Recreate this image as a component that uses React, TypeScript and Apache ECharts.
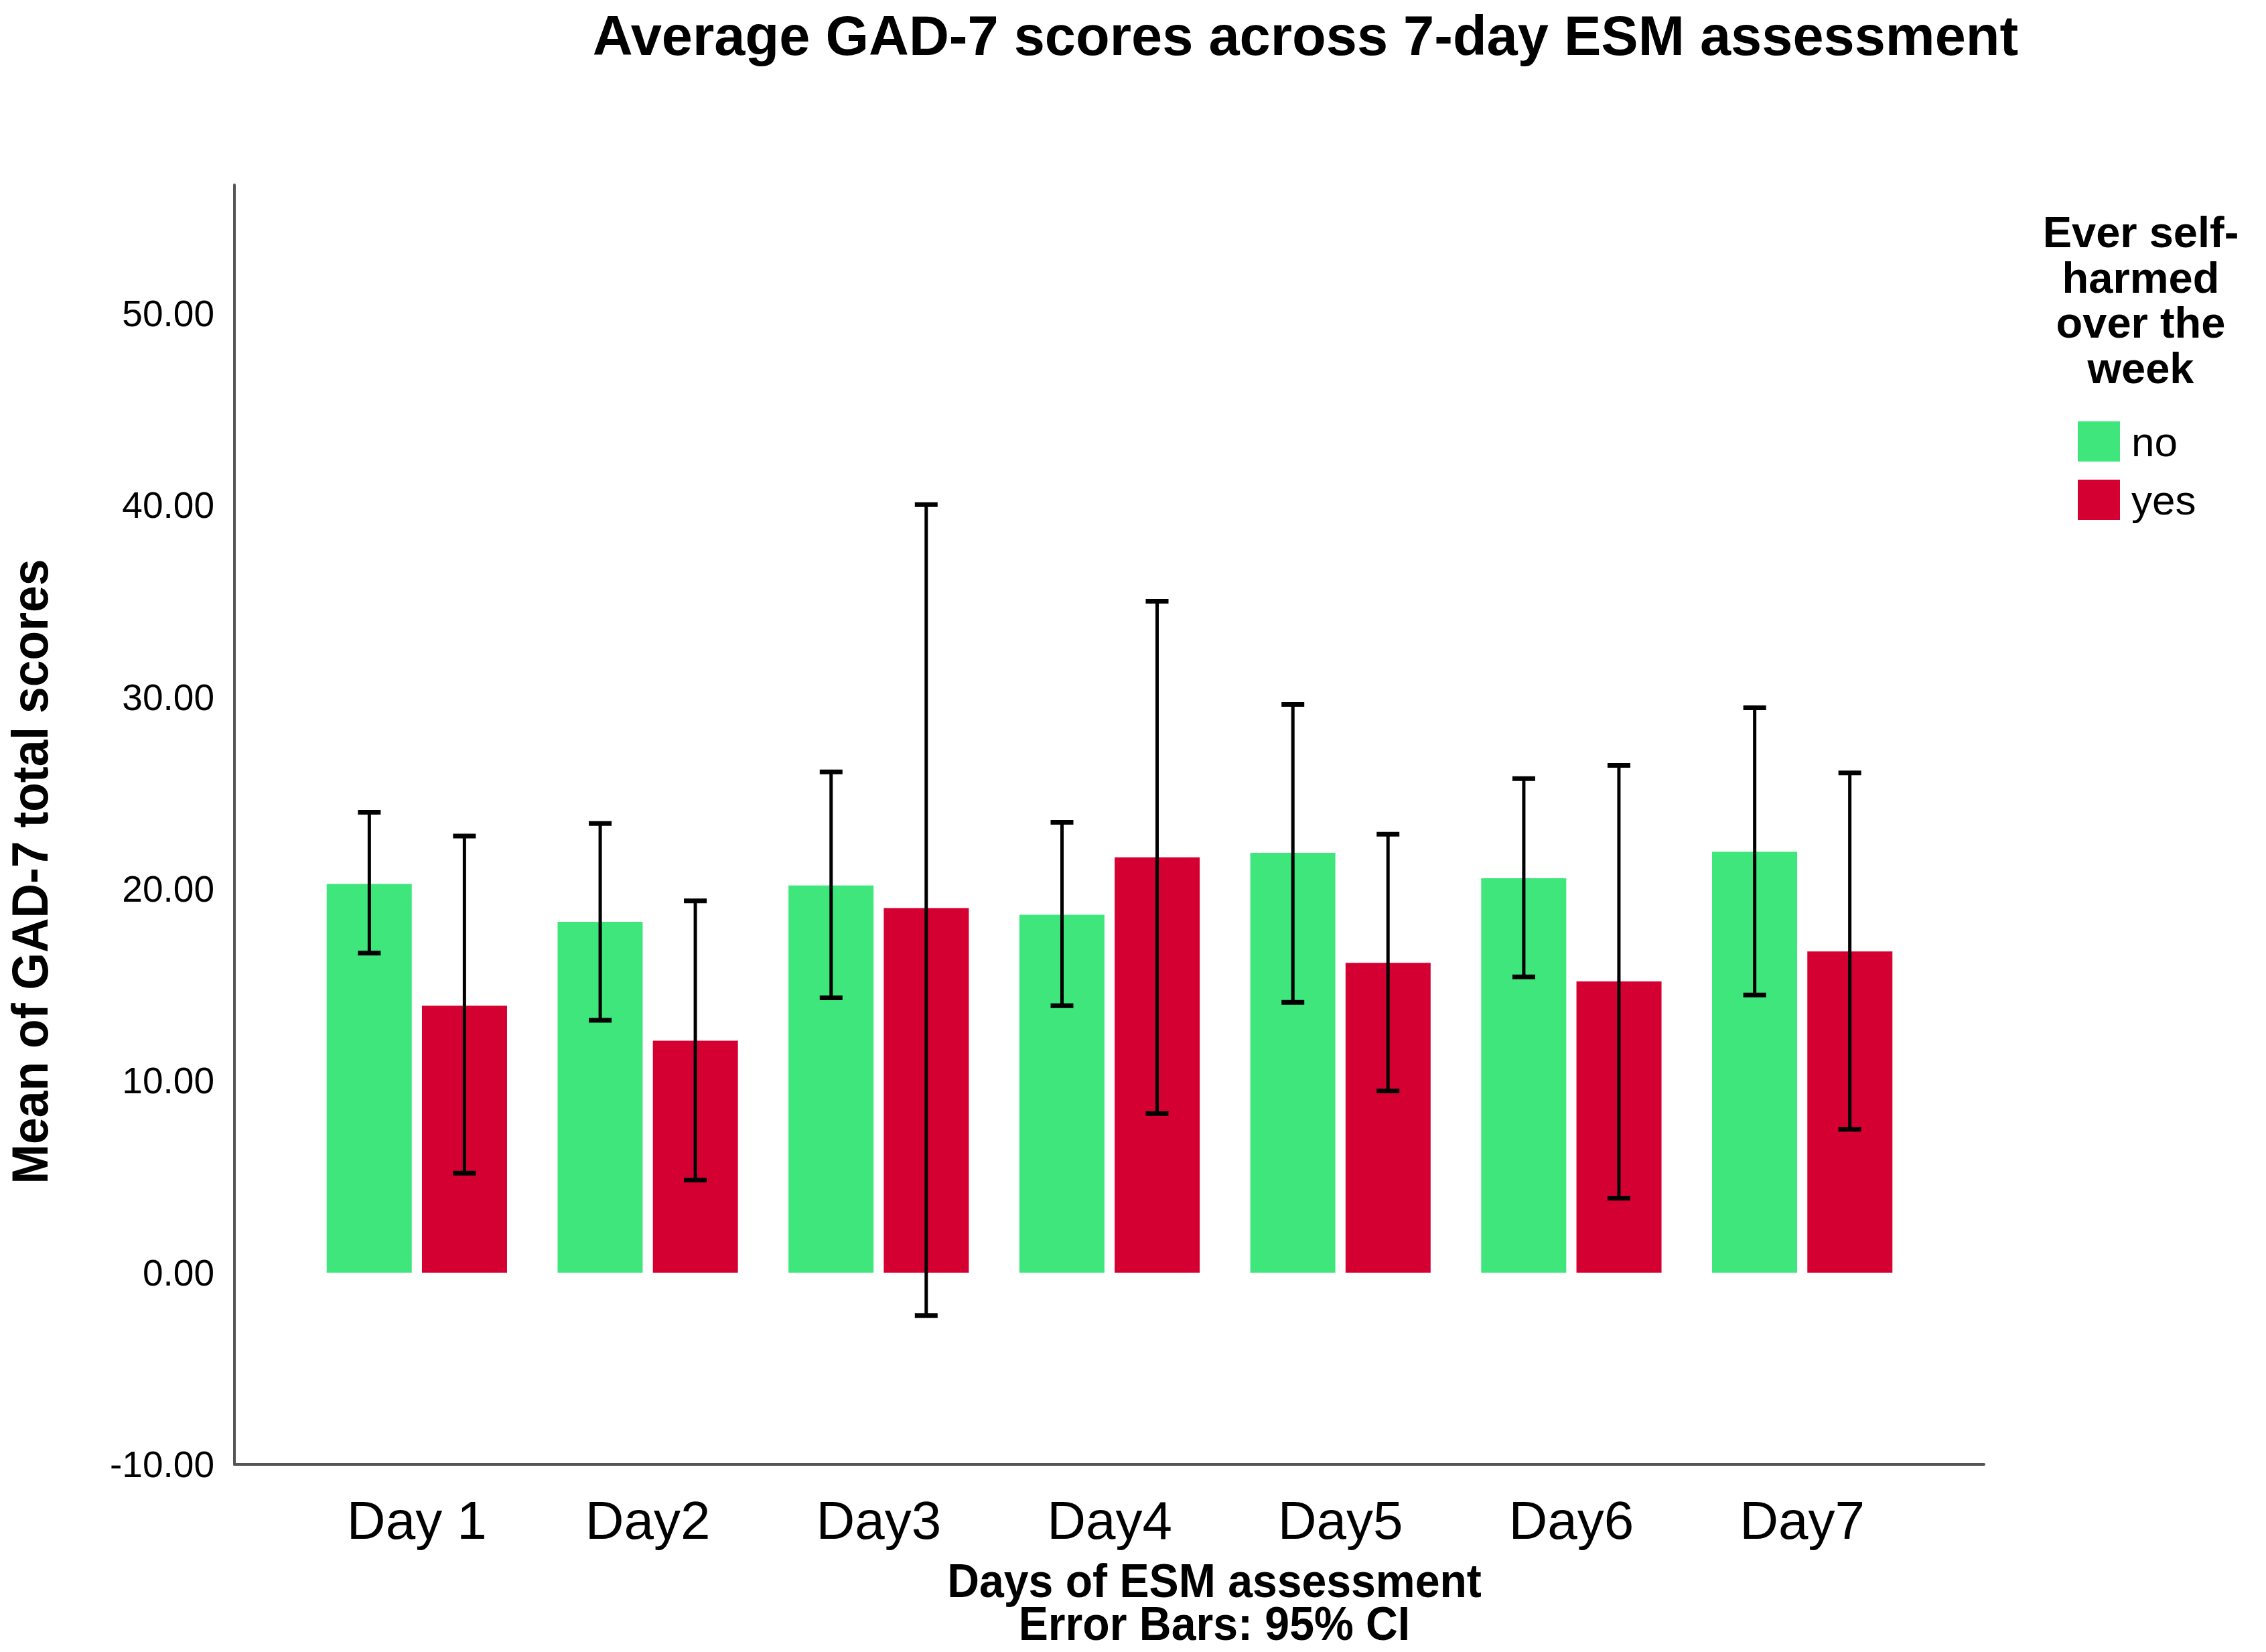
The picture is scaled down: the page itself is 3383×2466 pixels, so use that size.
import React, { useEffect, useRef } from "react";
import * as echarts from "echarts";

const days = ["Day 1", "Day2", "Day3", "Day4", "Day5", "Day6", "Day7"];
const noMean = [20.26, 18.29, 20.18, 18.65, 21.88, 20.56, 21.94];
const noLow = [16.65, 13.15, 14.32, 13.91, 14.09, 15.41, 14.47];
const noHigh = [24.0, 23.41, 26.1, 23.47, 29.62, 25.75, 29.44];
const yesMean = [13.91, 12.09, 19.0, 21.65, 16.15, 15.18, 16.74];
const yesLow = [5.18, 4.82, -2.24, 8.29, 9.47, 3.88, 7.47];
const yesHigh = [22.76, 19.38, 40.03, 35.0, 22.85, 26.44, 26.05];
const yTicksMin = -10;
const yTicksMax = 56.7;
const yInterval = 10;

const FONT = '"Liberation Sans", Arial, Helvetica, sans-serif';
const GREEN = "#3ee67c";
const RED = "#d50032";
const BAR_W = 127;
const OFFSET = 71;

function errRender(offset: number) {
  return (params: any, api: any) => {
    const xi = api.value(0);
    const pLo = api.coord([xi, api.value(1)]);
    const pHi = api.coord([xi, api.value(2)]);
    const x = pLo[0] + offset;
    const half = 17;
    const st = { stroke: "#000", lineWidth: 5 };
    const cap = { stroke: "#000", lineWidth: 7 };
    return {
      type: "group",
      children: [
        { type: "line", shape: { x1: x, y1: pHi[1], x2: x, y2: pLo[1] }, style: st },
        { type: "line", shape: { x1: x - half, y1: pHi[1], x2: x + half, y2: pHi[1] }, style: cap },
        { type: "line", shape: { x1: x - half, y1: pLo[1], x2: x + half, y2: pLo[1] }, style: cap },
      ],
    };
  };
}

export default function App() {
  const ref = useRef<HTMLDivElement>(null);
  useEffect(() => {
    if (!ref.current) return;
    const chart = echarts.init(ref.current, undefined, { renderer: "svg" });
    const axisLine = { show: true, onZero: false, lineStyle: { color: "#555", width: 4 } };
    chart.setOption({
      animation: false,
      backgroundColor: "#fff",
      grid: [
        { left: 450, width: 2413, top: 276, height: 1910 },
        { left: 350, width: 2612, top: 276, height: 1910 },
      ],
      xAxis: [
        {
          type: "category",
          gridIndex: 0,
          data: days,
          axisLine: { show: false },
          axisTick: { show: false },
          axisLabel: { fontSize: 80, color: "#000", margin: 43, fontFamily: FONT },
        },
        {
          type: "value",
          gridIndex: 1,
          min: 0,
          max: 1,
          axisLine,
          axisTick: { show: false },
          axisLabel: { show: false },
          splitLine: { show: false },
        },
      ],
      yAxis: [
        { type: "value", gridIndex: 0, min: yTicksMin, max: yTicksMax, show: false, splitLine: { show: false } },
        {
          type: "value",
          gridIndex: 1,
          min: yTicksMin,
          max: yTicksMax,
          interval: yInterval,
          axisLine,
          axisTick: { show: false },
          splitLine: { show: false },
          axisLabel: {
            fontSize: 55,
            color: "#000",
            margin: 30,
            fontFamily: FONT,
            formatter: (v: number) => (Math.abs(v % yInterval) < 1e-6 ? v.toFixed(2) : ""),
          },
        },
      ],
      legend: {
        orient: "vertical",
        left: 3102,
        top: 628,
        padding: 0,
        itemWidth: 63,
        itemHeight: 60,
        itemGap: 25,
        icon: "rect",
        data: ["no", "yes"],
        textStyle: { fontSize: 62, color: "#000", fontFamily: FONT, padding: [0, 0, 0, 12], lineHeight: 60 },
      },
      series: [
        {
          name: "no",
          type: "bar",
          xAxisIndex: 0,
          yAxisIndex: 0,
          data: noMean,
          barWidth: BAR_W,
          barGap: "12%",
          itemStyle: { color: GREEN },
        },
        {
          name: "yes",
          type: "bar",
          xAxisIndex: 0,
          yAxisIndex: 0,
          data: yesMean,
          barWidth: BAR_W,
          barGap: "12%",
          itemStyle: { color: RED },
        },
        {
          type: "custom",
          xAxisIndex: 0,
          yAxisIndex: 0,
          z: 5,
          renderItem: errRender(-OFFSET),
          data: days.map((d, i) => [i, noLow[i], noHigh[i]]),
          encode: { x: 0, y: [1, 2] },
        },
        {
          type: "custom",
          xAxisIndex: 0,
          yAxisIndex: 0,
          z: 5,
          renderItem: errRender(OFFSET),
          data: days.map((d, i) => [i, yesLow[i], yesHigh[i]]),
          encode: { x: 0, y: [1, 2] },
        },
      ],
      graphic: [
        {
          type: "text",
          x: 1949,
          y: 53,
          style: {
            text: "Average GAD-7 scores across 7-day ESM assessment",
            fontSize: 83,
            fontWeight: "bold",
            fontFamily: FONT,
            fill: "#000",
            align: "center",
            verticalAlign: "middle",
          },
        },
        {
          type: "text",
          x: 45,
          y: 1301,
          rotation: Math.PI / 2,
          scaleX: 0.94,
          style: {
            text: "Mean of GAD-7 total scores",
            fontSize: 76,
            fontWeight: "bold",
            fontFamily: FONT,
            fill: "#000",
            align: "center",
            verticalAlign: "middle",
          },
        },
        {
          type: "text",
          x: 1813,
          y: 2359,
          scaleX: 0.945,
          style: {
            text: "Days of ESM assessment",
            fontSize: 70,
            fontWeight: "bold",
            fontFamily: FONT,
            fill: "#000",
            align: "center",
            verticalAlign: "middle",
          },
        },
        {
          type: "text",
          x: 1813,
          y: 2423,
          scaleX: 0.945,
          style: {
            text: "Error Bars: 95% CI",
            fontSize: 70,
            fontWeight: "bold",
            fontFamily: FONT,
            fill: "#000",
            align: "center",
            verticalAlign: "middle",
          },
        },
        {
          type: "text",
          x: 3196,
          y: 313,
          style: {
            text: "Ever self-\nharmed\nover the\nweek",
            fontSize: 65,
            fontWeight: "bold",
            fontFamily: FONT,
            lineHeight: 67.5,
            fill: "#000",
            align: "center",
            verticalAlign: "top",
          },
        },
      ],
    });
    return () => chart.dispose();
  }, []);
  return (
    <div
      ref={ref}
      style={{ position: "absolute", left: 0, top: 0, width: 3383, height: 2466 }}
    />
  );
}
